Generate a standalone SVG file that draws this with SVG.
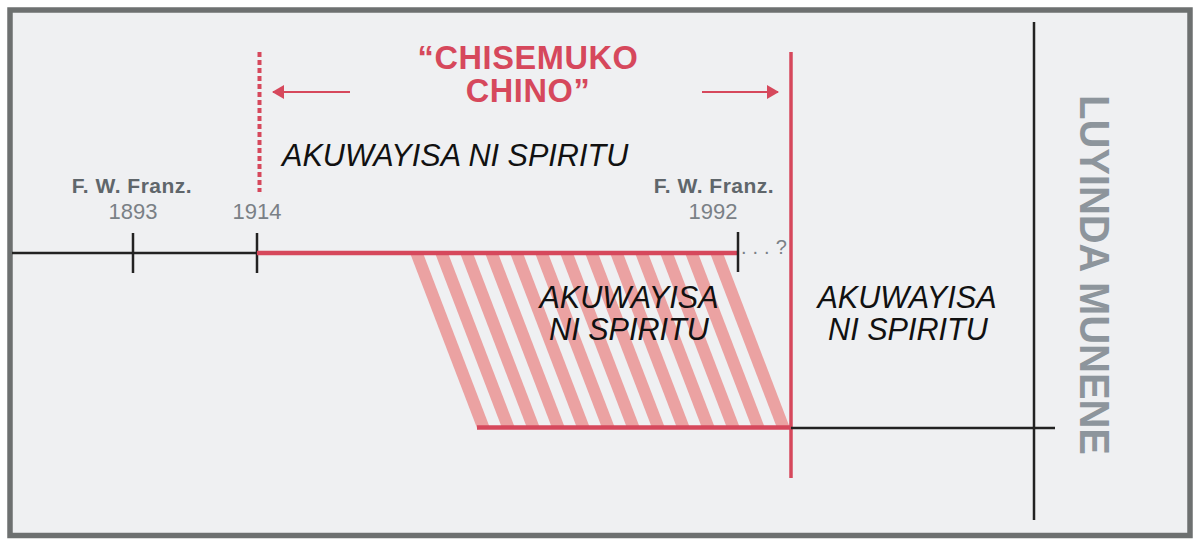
<svg xmlns="http://www.w3.org/2000/svg" width="1200" height="547" viewBox="0 0 1200 547">
<style>
.red{stroke:#d6485c;fill:none}
.blk{stroke:#222;fill:none;stroke-width:2.5}
.it{font-family:"Liberation Sans",Arial,sans-serif;font-style:italic;font-size:30.6px;fill:#111}
.nm{font-family:"Liberation Sans",Arial,sans-serif;font-weight:bold;font-size:21px;fill:#5f666b;letter-spacing:0.5px;text-anchor:middle}
.yr{font-family:"Liberation Sans",Arial,sans-serif;font-size:22px;fill:#7a8086;text-anchor:middle}
.ttl{font-family:"Liberation Sans",Arial,sans-serif;font-weight:bold;font-size:32.5px;fill:#d6485c;letter-spacing:0.6px;text-anchor:middle}
.mid{text-anchor:middle}
</style>
<defs>
<marker id="ah" markerUnits="userSpaceOnUse" markerWidth="12" markerHeight="14" refX="11" refY="7" orient="auto">
<path d="M0,0 L12,7 L0,14 z" fill="#d6485c"/>
</marker>
<polygon id="stripe" points="410,253 423,253 490,428 477,428" fill="#eba2a2"/>
</defs>
<rect x="0" y="0" width="1200" height="547" fill="#ffffff"/>
<rect id="frame" x="10" y="10" width="1180" height="525.5" fill="#eff0f2" stroke="#6d7070" stroke-width="5.5"/>
<g id="hatch">
<use href="#stripe"/>
<use href="#stripe" x="25"/>
<use href="#stripe" x="50"/>
<use href="#stripe" x="75"/>
<use href="#stripe" x="100"/>
<use href="#stripe" x="125"/>
<use href="#stripe" x="150"/>
<use href="#stripe" x="175"/>
<use href="#stripe" x="200"/>
<use href="#stripe" x="225"/>
<use href="#stripe" x="250"/>
<use href="#stripe" x="275"/>
<use href="#stripe" x="300"/>
</g>
<g id="connectors">
<line class="blk" x1="12" y1="253" x2="257" y2="253"/>
<line class="blk" x1="133" y1="233" x2="133" y2="273"/>
<line class="blk" x1="257" y1="233" x2="257" y2="273"/>
<line class="red" x1="257" y1="253" x2="738" y2="253" stroke-width="4.5"/>
<line class="blk" x1="738" y1="232" x2="738" y2="272"/>
<line class="red" x1="259.5" y1="52" x2="259.5" y2="192" stroke-width="4" stroke-dasharray="5 3"/>
<line class="red" x1="791" y1="52" x2="791" y2="478" stroke-width="3.5"/>
<line class="red" x1="477" y1="427.5" x2="791" y2="427.5" stroke-width="4.5"/>
<line class="blk" x1="791" y1="428" x2="1055" y2="428"/>
<line class="blk" x1="1034" y1="22" x2="1034" y2="520"/>
<line class="red" x1="350" y1="92" x2="273" y2="92" stroke-width="2" marker-end="url(#ah)"/>
<line class="red" x1="702" y1="92" x2="778" y2="92" stroke-width="2" marker-end="url(#ah)"/>
</g>
<g id="title">
<text class="ttl" x="528" y="69">“CHISEMUKO</text>
<text class="ttl" x="528" y="102">CHINO”</text>
</g>
<g id="label-top">
<text class="it" x="282" y="166">AKUWAYISA NI SPIRITU</text>
</g>
<g id="franz-1893">
<text class="nm" x="132" y="193">F. W. Franz.</text>
<text class="yr" x="133" y="219">1893</text>
</g>
<g id="year-1914">
<text class="yr" x="257" y="219">1914</text>
</g>
<g id="franz-1992">
<text class="nm" x="714" y="193">F. W. Franz.</text>
<text class="yr" x="713" y="219">1992</text>
<text x="741" y="254" style="font-family:'Liberation Sans',Arial,sans-serif;font-size:20px;fill:#7a8086;letter-spacing:6px">...?</text>
</g>
<g id="label-mid">
<text class="it mid" x="629" y="308">AKUWAYISA</text>
<text class="it mid" x="629" y="340">NI SPIRITU</text>
</g>
<g id="label-right">
<text class="it mid" x="907" y="308">AKUWAYISA</text>
<text class="it mid" x="908" y="340">NI SPIRITU</text>
</g>
<g id="luyinda">
<text transform="translate(1080,275) rotate(90)" x="0" y="0" text-anchor="middle" textLength="360" lengthAdjust="spacingAndGlyphs" style="font-family:'Liberation Sans',Arial,sans-serif;font-weight:bold;font-size:43px;fill:#8d959c">LUYINDA MUNENE</text>
</g>
</svg>
